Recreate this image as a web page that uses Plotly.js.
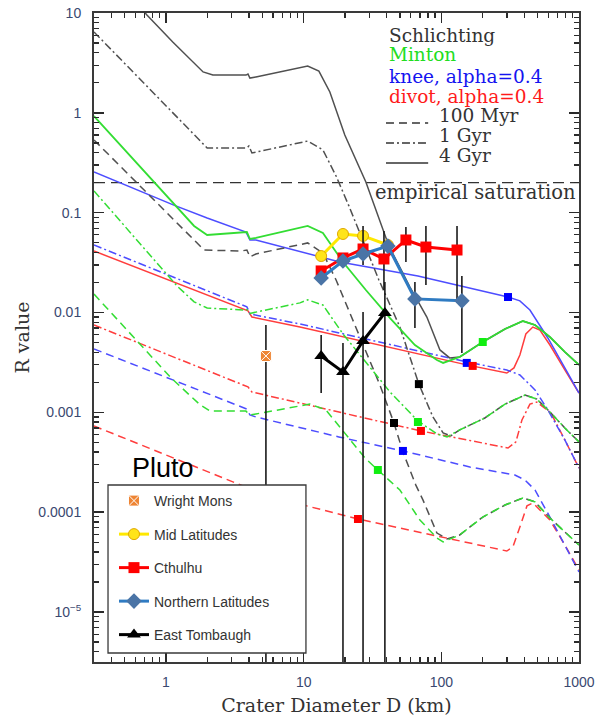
<!DOCTYPE html>
<html>
<head>
<meta charset="utf-8">
<script src="https://cdn.plot.ly/plotly-3.0.1.min.js"></script>
<style>html,body{margin:0;padding:0;background:#fff;}#chart{width:603px;height:717px;}</style>
</head>
<body>
<div id="chart"></div>
<script>
// ---------------- data ----------------
// empirical saturation level
const satD = [0.3, 1000];
const satR = [0.2, 0.2];

// Schlichting model (black)
const schl4D = [0.647, 0.727, 1.12, 1.86, 2.19, 3.81, 3.94, 4.07, 4.50, 7.94, 10.7, 12.9, 15.5, 19.9, 28.3, 41.6, 59.2, 78.5, 97.7, 115, 136, 200, 290, 391, 479, 615, 789, 1000];
const schl4R = [11.5, 9.55, 5.13, 2.57, 2.39, 2.39, 2.45, 2.23, 2.29, 2.69, 2.94, 2.62, 1.62, 0.600, 0.203, 0.0465, 0.0180, 0.00902, 0.00422, 0.00351, 0.00359, 0.00507, 0.00684, 0.00822, 0.00750, 0.00569, 0.00403, 0.00299];
const schl1D = [0.3, 1.49, 1.99, 3.87, 4.0, 4.21, 9.40, 10.7, 13.8, 17.2, 21.3, 27.0, 35.2, 50.0, 68.7, 86.9, 103, 117, 136, 207, 290, 405, 494, 625, 789, 1000];
const schl1R = [6.46, 0.658, 0.445, 0.445, 0.466, 0.396, 0.499, 0.522, 0.425, 0.233, 0.117, 0.0533, 0.0212, 0.00716, 0.00192, 0.000899, 0.000622, 0.000581, 0.000667, 0.000879, 0.00121, 0.00149, 0.00136, 0.000987, 0.000698, 0.000506];
const schl01D = [0.3, 1.89, 3.51, 3.87, 4.07, 4.50, 10.7, 13.8, 17.2, 21.7, 28.3, 35.8, 45.3, 52.6, 65.3, 73.5, 92.9, 110, 136, 200, 290, 391, 479, 615, 789, 1000];
const schl01R = [0.535, 0.0423, 0.0413, 0.0423, 0.0360, 0.0386, 0.0498, 0.0395, 0.0212, 0.00991, 0.00412, 0.00188, 0.000783, 0.000401, 0.000187, 0.000133, 0.0000619, 0.0000540, 0.0000592, 0.0000895, 0.000118, 0.000139, 0.000127, 0.0000875, 0.0000634, 0.0000470];

// Minton model (green)
const mint4D = [0.3, 0.791, 1.60, 1.99, 3.51, 3.87, 4.07, 4.50, 10.7, 13.8, 19.3, 28.3, 42.4, 64.3, 92.9, 103, 136, 200, 290, 391, 479, 615, 789, 1000];
const mint4R = [0.929, 0.213, 0.0736, 0.0598, 0.0627, 0.0640, 0.0545, 0.0558, 0.0736, 0.0627, 0.0321, 0.0168, 0.00881, 0.00473, 0.00335, 0.00313, 0.00359, 0.00507, 0.00684, 0.00822, 0.00750, 0.00569, 0.00403, 0.00299];
const mint1D = [0.3, 1.20, 1.60, 1.99, 3.75, 3.87, 4.07, 4.50, 9.40, 10.7, 13.8, 19.3, 28.3, 42.4, 67.6, 92.9, 110, 136, 207, 290, 405, 494, 625, 789, 1000];
const mint1R = [0.165, 0.0185, 0.0128, 0.0111, 0.0106, 0.0107, 0.0098, 0.0101, 0.0125, 0.0134, 0.0119, 0.00610, 0.00320, 0.00160, 0.000820, 0.000608, 0.000568, 0.000667, 0.000879, 0.00121, 0.00149, 0.00136, 0.000987, 0.000698, 0.000506];
const mint01D = [0.3, 1.09, 1.77, 2.09, 3.81, 4.07, 4.50, 11.1, 14.5, 21.3, 27.9, 34.6, 50.0, 69.9, 92.9, 103, 136, 200, 290, 391, 479, 615, 789, 1000];
const mint01R = [0.0153, 0.00221, 0.00119, 0.00103, 0.00103, 0.000942, 0.000964, 0.00121, 0.00106, 0.000555, 0.000349, 0.000265, 0.000167, 0.0000836, 0.0000552, 0.0000504, 0.0000592, 0.0000895, 0.000118, 0.000139, 0.000127, 0.0000875, 0.0000634, 0.0000470];

// knee model, alpha = 0.4 (blue)
const knee4D = [0.3, 1.14, 1.99, 3.81, 4.07, 4.50, 18.3, 67.6, 305, 372, 440, 594, 789, 1000];
const knee4R = [0.256, 0.119, 0.0885, 0.0641, 0.0533, 0.0533, 0.0321, 0.0232, 0.0143, 0.0131, 0.0106, 0.00556, 0.00279, 0.00156];
const knee1D = [0.3, 3.87, 4.07, 9.40, 153, 299, 372, 479, 594, 789, 1000];
const knee1R = [0.0475, 0.0114, 0.00968, 0.00768, 0.00320, 0.00266, 0.00237, 0.00168, 0.00106, 0.000530, 0.000277];
const knee01D = [0.3, 3.87, 4.07, 4.50, 18.0, 52.6, 161, 342, 405, 479, 615, 789, 1000];
const knee01R = [0.00432, 0.00108, 0.000942, 0.000899, 0.000568, 0.000411, 0.000284, 0.000236, 0.000210, 0.000167, 0.0000895, 0.0000470, 0.0000252];

// divot model, alpha = 0.4 (red)
const div4D = [0.3, 3.94, 4.21, 9.40, 153, 299, 337, 372, 411, 462, 520, 615, 789, 1000];
const div4R = [0.0413, 0.0104, 0.00902, 0.00716, 0.00299, 0.00248, 0.00279, 0.00376, 0.00610, 0.00716, 0.00668, 0.00473, 0.00266, 0.00156];
const div1D = [0.3, 3.94, 4.21, 9.40, 71.1, 305, 348, 385, 440, 494, 625, 789, 1000];
const div1R = [0.00750, 0.00180, 0.00160, 0.00124, 0.000652, 0.000440, 0.000506, 0.000839, 0.00121, 0.00127, 0.000987, 0.000530, 0.000277];
const div01D = [0.3, 3.94, 4.21, 9.40, 24.8, 299, 331, 372, 419, 462, 615, 789, 1000];
const div01R = [0.000731, 0.000175, 0.000160, 0.000121, 0.0000855, 0.0000409, 0.0000449, 0.0000711, 0.000116, 0.000124, 0.0000836, 0.0000470, 0.0000264];

// square markers on the model curves
const sqBlackD = [68.7, 45.3];        const sqBlackR = [0.00192, 0.000783];
const sqGreenD = [200, 67.6, 34.6];   const sqGreenR = [0.00507, 0.000801, 0.000265];
const sqBlueD  = [305, 153, 52.6];    const sqBlueR  = [0.0143, 0.00313, 0.000411];
const sqRedD   = [169, 71.1, 24.8];   const sqRedR   = [0.00292, 0.000652, 0.0000855];

// Pluto measurements
const wrightD = [5.32];  const wrightR = [0.00367];  const wrightHi = [0.0075];  const wrightLo = [1e-7];
const midD = [13.4, 19.3, 27.0, 40.9];
const midR = [0.0368, 0.0612, 0.0585, 0.0475];
const cthD  = [13.4, 19.3, 27.0, 38.3, 55.3, 77.3, 130];
const cthR  = [0.0261, 0.0352, 0.0433, 0.0344, 0.0533, 0.0453, 0.0423];
const cthHi = [0.0261, 0.0352, 0.0736, 0.0656, 0.0719, 0.0736, 0.0736];
const cthLo = [0.0261, 0.0352, 0.0300, 0.0168, 0.0321, 0.0189, 0.0125];
const northD  = [13.4, 19.3, 27.0, 40.9, 64.3, 141];
const northR  = [0.0222, 0.0328, 0.0386, 0.0463, 0.0137, 0.0131];
const northHi = [0.0222, 0.0328, 0.0386, 0.0463, 0.0202, 0.0232];
const northLo = [0.0222, 0.0328, 0.0386, 0.0463, 0.00700, 0.00394];
const eastD  = [13.4, 19.3, 27.0, 38.9];
const eastR  = [0.00367, 0.00254, 0.00519, 0.00991];
const eastHi = [0.00596, 0.00495, 0.0101, 0.0202];
const eastLo = [0.00156, 1e-7, 1e-7, 1e-7];

// tick labels
const xTickVals = [1, 10, 100, 1000];
const xTickText = ['1', '10', '100', '1000'];
const yTickVals = [1e-5, 1e-4, 1e-3, 1e-2, 1e-1, 1, 10];
const yTickText = ['10<sup>−5</sup>', '0.0001', '0.001', '0.01', '0.1', '1', '10'];

// ---------------- styling ----------------
const C_BLACK = '#505050', C_GREEN = '#33dd33', C_BLUE = '#4d4dff', C_RED = '#ff3d3d';
const DASH = '8px,5px', DASHDOT = '8px,3px,2px,3px';

function model(D, R, color, dash, width) {
  return {x: D, y: R, type: 'scatter', mode: 'lines', showlegend: false, hoverinfo: 'skip',
          line: {color: color, width: width || 1.5, dash: dash}};
}
function squares(D, R, color) {
  return {x: D, y: R, type: 'scatter', mode: 'markers', showlegend: false, hoverinfo: 'skip',
          marker: {symbol: 'square', size: 8, color: color}};
}
function errs(R, hi, lo) {
  return {type: 'data', symmetric: false,
          array: hi.map((h, i) => h - R[i]), arrayminus: lo.map((l, i) => R[i] - l),
          color: '#1a1a1a', thickness: 1.6, width: 0};
}

const traces = [
  {x: satD, y: satR, type: 'scatter', mode: 'lines', showlegend: false, hoverinfo: 'skip',
   line: {color: '#333', width: 1.4, dash: '11px,6px'}},
  model(div01D, div01R, C_RED, DASH), model(div1D, div1R, C_RED, DASHDOT), model(div4D, div4R, C_RED, 'solid'),
  model(knee01D, knee01R, C_BLUE, DASH), model(knee1D, knee1R, C_BLUE, DASHDOT), model(knee4D, knee4R, C_BLUE, 'solid'),
  model(schl01D, schl01R, C_BLACK, DASH), model(schl1D, schl1R, C_BLACK, DASHDOT), model(schl4D, schl4R, C_BLACK, 'solid'),
  model(mint01D, mint01R, C_GREEN, DASH), model(mint1D, mint1R, C_GREEN, DASHDOT), model(mint4D, mint4R, C_GREEN, 'solid', 1.8),
  squares(sqBlackD, sqBlackR, '#000'), squares(sqGreenD, sqGreenR, '#11ee11'),
  squares(sqBlueD, sqBlueR, '#0000ff'), squares(sqRedD, sqRedR, '#ff0000'),
  {name: 'Wright Mons', legendgroup: 'g1', x: wrightD, y: wrightR, type: 'scatter', mode: 'markers',
   marker: {symbol: 'square-x', size: 11, color: '#ee8433', line: {color: '#ffffff', width: 1}},
   error_y: errs(wrightR, wrightHi, wrightLo)},
  {name: 'Mid Latitudes', legendgroup: 'g2', x: midD, y: midR, type: 'scatter', mode: 'lines+markers',
   line: {color: '#ffe800', width: 3},
   marker: {symbol: 'circle', size: 11, color: '#ffe41a', line: {color: '#e0a800', width: 1}}},
  {name: 'Cthulhu', legendgroup: 'g3', x: cthD, y: cthR, type: 'scatter', mode: 'lines+markers',
   line: {color: '#ff0000', width: 3},
   marker: {symbol: 'square', size: 11, color: '#ff0000'},
   error_y: errs(cthR, cthHi, cthLo)},
  {name: 'Northern Latitudes', legendgroup: 'g4', x: northD, y: northR, type: 'scatter', mode: 'lines+markers',
   line: {color: '#2f7bc2', width: 3},
   marker: {symbol: 'diamond', size: 12, color: '#4a74a6'},
   error_y: errs(northR, northHi, northLo)},
  {name: 'East Tombaugh', legendgroup: 'g5', x: eastD, y: eastR, type: 'scatter', mode: 'lines+markers',
   line: {color: '#000000', width: 3},
   marker: {symbol: 'triangle-up', size: 12, color: '#000000'},
   error_y: errs(eastR, eastHi, eastLo)}
];

// minor tick positions (axis decoration)
function minorTicks(e0, e1, lo, hi) {
  const v = [];
  for (let e = e0; e <= e1; e++) for (let k = 2; k <= 9; k++) {
    const t = k * Math.pow(10, e);
    if (t >= lo && t <= hi) v.push(t);
  }
  return v;
}

const tickFont = {family: 'Liberation Sans, Arial, sans-serif', size: 14, color: '#3a4870'};
const serif = 'DejaVu Serif, serif';

const axisCommon = {
  type: 'log', showgrid: false, zeroline: false,
  showline: true, linecolor: '#3a3a3a', linewidth: 2, mirror: 'allticks',
  ticks: 'inside', ticklen: 10, tickwidth: 1.6, tickcolor: '#2a2a2a',
  tickmode: 'array', tickfont: tickFont
};

const layout = {
  width: 603, height: 717,
  margin: {l: 94, r: 24, t: 13, b: 55},
  paper_bgcolor: '#ffffff', plot_bgcolor: '#ffffff',
  showlegend: true,
  xaxis: Object.assign({}, axisCommon, {
    range: [Math.log10(0.3), 3], tickvals: xTickVals, ticktext: xTickText, ticklabelstandoff: 6,
    minor: {tickmode: 'array', tickvals: minorTicks(-1, 2, 0.3, 1000), ticks: 'inside', ticklen: 5, tickwidth: 1.3, tickcolor: '#2a2a2a', showgrid: false},
    title: {text: 'Crater Diameter D (km)', font: {family: serif, size: 19, color: '#333'}, standoff: 10}
  }),
  yaxis: Object.assign({}, axisCommon, {
    range: [-5.5, 1], tickvals: yTickVals, ticktext: yTickText, ticklabelstandoff: 8,
    minor: {tickmode: 'array', tickvals: minorTicks(-6, 0, 3.2e-6, 10), ticks: 'inside', ticklen: 5, tickwidth: 1.3, tickcolor: '#2a2a2a', showgrid: false},
    title: {text: 'R value', font: {family: serif, size: 19, color: '#333'}, standoff: 4}
  }),
  legend: {
    x: 0.0412, y: 0.2727, xanchor: 'left', yanchor: 'top',
    bgcolor: 'rgba(0,0,0,0)', borderwidth: 0,
    font: {family: 'Liberation Sans, Arial, sans-serif', size: 14, color: '#333'},
    tracegroupgap: 12.3, itemwidth: 30, traceorder: 'grouped'
  },
  annotations: [
    {text: 'Schlichting', x: 0.604, y: 0.9646, color: '#333'},
    {text: 'Minton', x: 0.604, y: 0.9353, color: '#22dd22'},
    {text: 'knee, alpha=0.4', x: 0.604, y: 0.9029, color: '#1414f0'},
    {text: 'divot, alpha=0.4', x: 0.604, y: 0.8721, color: '#ff1a1a'},
    {text: '100 Myr', x: 0.707, y: 0.8413, color: '#333'},
    {text: '1 Gyr', x: 0.707, y: 0.8105, color: '#333'},
    {text: '4 Gyr', x: 0.707, y: 0.7797, color: '#333'}
  ].map(a => ({text: a.text, xref: 'paper', yref: 'paper', x: a.x, y: a.y, xanchor: 'left', yanchor: 'middle',
               showarrow: false, font: {family: serif, size: 18.5, color: a.color}}))
  .concat([
    {text: 'empirical saturation', xref: 'paper', yref: 'paper', x: 0.997, y: 0.724, xanchor: 'right', yanchor: 'middle',
     showarrow: false, font: {family: serif, size: 19.5, color: '#333'}},
    {text: 'Pluto', xref: 'paper', yref: 'paper', x: 0.074, y: 0.299, xanchor: 'left', yanchor: 'middle',
     showarrow: false, font: {family: 'Liberation Sans, Arial, sans-serif', size: 27, color: '#000'}}
  ]),
  shapes: [
    // legend frame (the legend itself is drawn on top of it)
    {type: 'rect', xref: 'paper', yref: 'paper', x0: 0.0289, x1: 0.437, y0: 0.0139, y1: 0.2727,
     fillcolor: '#ffffff', line: {color: '#3a3a3a', width: 1.3}, layer: 'above'},
    // line-style key of the model curves
    {type: 'line', xref: 'paper', yref: 'paper', x0: 0.602, x1: 0.689, y0: 0.8305, y1: 0.8305, line: {color: '#333', width: 1.4, dash: DASH}},
    {type: 'line', xref: 'paper', yref: 'paper', x0: 0.602, x1: 0.689, y0: 0.7997, y1: 0.7997, line: {color: '#333', width: 1.4, dash: DASHDOT}},
    {type: 'line', xref: 'paper', yref: 'paper', x0: 0.602, x1: 0.689, y0: 0.7689, y1: 0.7689, line: {color: '#333', width: 1.4}}
  ]
};

Plotly.newPlot('chart', traces, layout, {displayModeBar: false, staticPlot: true});
</script>
</body>
</html>
